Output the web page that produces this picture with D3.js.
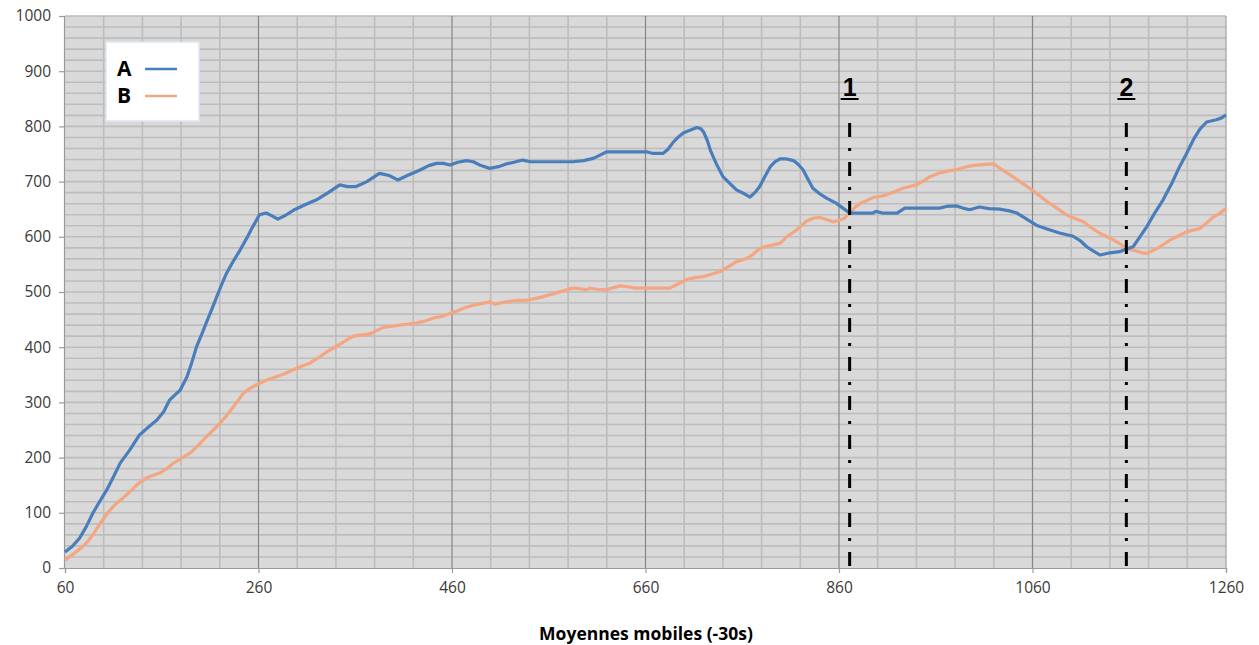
<!DOCTYPE html>
<html><head><meta charset="utf-8">
<script src="https://cdn.jsdelivr.net/npm/d3@7/dist/d3.min.js"></script>
<style>
html,body{margin:0;padding:0;background:#fff;}
svg{display:block;}
text{font-family:"Open Sans","Liberation Sans",Arial,sans-serif;}
</style></head>
<body>
<svg id="chart" width="1259" height="645"></svg>
<script>
// ---- data ----
const xA = [60,68,75,82,89,96,103,110,117,127,137,146,155,162,168,174,179,186,191,196,201,206,212,217,222,227,234,241,248,254,261,268,274,280,288,296,308,320,332,344,352,361,372,385,395,404,415,427,436,444,451,458,466,475,482,490,499,508,516,524,533,541,560,585,596,606,613,620,640,661,668,678,683,689,694,699,706,713,717,720,724,727,733,740,747,754,761,768,773,778,783,789,794,799,806,813,818,823,828,833,840,847,857,864,871,880,895,898,905,920,928,940,964,971,981,988,995,1005,1015,1026,1036,1044,1054,1064,1075,1088,1102,1110,1116,1123,1130,1140,1150,1157,1164,1171,1178,1186,1195,1204,1212,1219,1226,1233,1240,1250,1255,1260];
const yA = [29,40,54,75,100,121,141,165,190,214,241,255,268,283,304,314,322,346,372,401,422,444,470,492,514,534,556,576,598,618,640,643,638,632,639,648,658,667,680,694,691,691,700,715,711,703,712,721,729,733,733,730,735,738,736,729,724,727,732,735,739,736,736,736,738,742,748,754,754,754,751,751,758,772,781,788,793,798,796,790,774,757,733,709,697,685,679,672,680,691,708,727,736,741,741,738,731,721,704,688,678,670,661,652,643,643,643,646,643,643,652,652,652,655,656,652,649,654,651,650,647,643,632,621,614,607,601,592,582,574,567,571,573,578,582,600,618,642,667,697,727,750,775,795,808,812,815,821];
const xB = [60,66,72,77,82,88,93,100,106,113,120,127,135,144,151,158,165,172,180,189,196,203,211,220,227,234,240,244,251,258,268,279,287,296,305,313,322,331,340,351,358,366,375,382,389,398,406,415,424,433,441,450,458,466,474,482,490,499,505,512,520,528,537,546,555,565,575,585,592,599,602,610,620,627,634,643,650,660,670,685,693,703,711,720,728,737,745,754,760,765,771,778,788,799,806,816,826,834,840,848,854,860,865,871,877,882,889,895,902,909,918,926,933,940,947,954,963,972,982,992,1002,1010,1020,1028,1037,1047,1057,1066,1075,1085,1095,1104,1113,1121,1130,1137,1144,1150,1157,1163,1168,1173,1178,1183,1189,1196,1202,1210,1219,1226,1233,1240,1247,1254,1260];
const yB = [14,22,30,37,45,58,72,90,104,117,127,138,152,163,168,172,180,190,198,208,219,232,246,262,276,292,306,316,325,332,340,347,352,359,366,371,381,392,401,413,420,422,424,430,436,438,440,442,444,448,453,456,461,466,472,476,479,482,478,481,483,485,485,488,492,497,502,507,506,504,507,505,504,508,511,509,507,507,507,507,514,523,526,528,532,537,545,555,558,561,568,579,584,588,600,612,628,634,635,631,627,630,633,643,654,661,666,671,673,676,682,688,691,694,701,709,715,719,722,727,730,731,732,722,712,700,688,676,664,652,640,633,627,616,606,600,594,588,579,576,574,571,570,574,579,587,594,601,609,612,615,625,636,643,651];
const seriesNames = ["A","B"];
const seriesColors = ["#4a7ebb","#f4a582"];
const xTicks = [60,260,460,660,860,1060,1260];
const yTicks = [0,100,200,300,400,500,600,700,800,900,1000];
const markerX = [871,1157];
const markerLabels = ["1","2"];
const xTitle = "Moyennes mobiles (-30s)";

// ---- layout ----
const svg = d3.select("#chart");
const L = 65, R = 1226, T = 16, B = 568;
const x = d3.scaleLinear().domain([60,1260]).range([L,R]);
const y = d3.scaleLinear().domain([0,1000]).range([B,T]);

// background
svg.append("rect").attr("x",L).attr("y",T).attr("width",R-L).attr("height",B-T).attr("fill","#d9d9d9");

// minor horizontal grid every 20
const g = svg.append("g");
g.selectAll(".hg").data(d3.range(20,1001,20)).join("line")
  .attr("x1",L).attr("x2",R).attr("y1",d=>y(d)).attr("y2",d=>y(d))
  .attr("stroke","#bdbdbd").attr("stroke-width",1.6);
// minor vertical grid every 40
g.selectAll(".vg").data(d3.range(100,1260,40).filter(d=>(d-60)%200!==0)).join("line")
  .attr("y1",T).attr("y2",B).attr("x1",d=>x(d)).attr("x2",d=>x(d))
  .attr("stroke","#bdbdbd").attr("stroke-width",1.6);
// major vertical grid
g.selectAll(".vm").data(xTicks.slice(1,-1)).join("line")
  .attr("y1",T).attr("y2",B).attr("x1",d=>x(d)).attr("x2",d=>x(d))
  .attr("stroke","#858585").attr("stroke-width",1.2);
// right edge
g.append("line").attr("x1",R).attr("x2",R).attr("y1",T).attr("y2",B).attr("stroke","#a0a0a0").attr("stroke-width",1.2);

// axes
const yAxis = d3.axisLeft(y).tickValues(yTicks).tickSize(5).tickPadding(8).tickFormat(d3.format("d"));
const ya = svg.append("g").attr("transform",`translate(${L-1},0)`).call(yAxis);
const xAxis = d3.axisBottom(x).tickValues(xTicks).tickSize(5).tickPadding(9).tickFormat(d3.format("d"));
const xa = svg.append("g").attr("transform",`translate(0,${B})`).call(xAxis);
[ya,xa].forEach(a=>{
  a.select(".domain").attr("stroke","#9a9a9a").attr("stroke-width",1.2);
  a.selectAll(".tick line").attr("stroke","#9a9a9a").attr("stroke-width",1.2);
  a.selectAll(".tick text").attr("fill","#3a3a3a").style("font-size","15.5px")
   .style("font-family","'Open Sans','Liberation Sans',Arial,sans-serif");
});

// lines
const line = d3.line().x(d=>x(d[0])).y(d=>y(d[1]));
const dataA = xA.map((v,i)=>[v,yA[i]]);
const dataB = xB.map((v,i)=>[v,yB[i]]);
svg.append("path").datum(dataB).attr("d",line).attr("fill","none")
  .attr("stroke",seriesColors[1]).attr("stroke-width",3.2).attr("stroke-linejoin","round");
svg.append("path").datum(dataA).attr("d",line).attr("fill","none")
  .attr("stroke",seriesColors[0]).attr("stroke-width",3.2).attr("stroke-linejoin","round");

// markers
markerX.forEach((mx,i)=>{
  const px = x(mx);
  svg.append("line").attr("x1",px).attr("x2",px).attr("y1",123).attr("y2",572)
    .attr("stroke","#000").attr("stroke-width",3).attr("stroke-dasharray","14,11,3,11");
  svg.append("text").attr("x",px).attr("y",96).attr("text-anchor","middle")
    .style("font-size","25px").style("font-weight","bold").attr("fill","#000")
    .style("font-family","'Liberation Sans',Arial,sans-serif")
    .text(markerLabels[i]);
  svg.append("line").attr("x1",px-9).attr("x2",px+9).attr("y1",99).attr("y2",99)
    .attr("stroke","#000").attr("stroke-width",2);
});

// legend
const lg = svg.append("g");
lg.append("rect").attr("x",106).attr("y",42).attr("width",93).attr("height",79)
  .attr("fill","#fff").attr("stroke","#dce6f2").attr("stroke-width",1.5);
seriesNames.forEach((n,i)=>{
  const cy = [69,96][i];
  lg.append("text").attr("x",117).attr("y",cy+7).text(n)
    .style("font-size","21px").style("font-weight","bold").attr("fill","#000");
  lg.append("line").attr("x1",145).attr("x2",177).attr("y1",cy).attr("y2",cy)
    .attr("stroke",seriesColors[i]).attr("stroke-width",2.5);
});

// x title
svg.append("text").attr("x",646).attr("y",640).attr("text-anchor","middle")
  .style("font-size","17.5px").style("font-weight","bold").attr("fill","#000").text(xTitle);
</script>
</body></html>
